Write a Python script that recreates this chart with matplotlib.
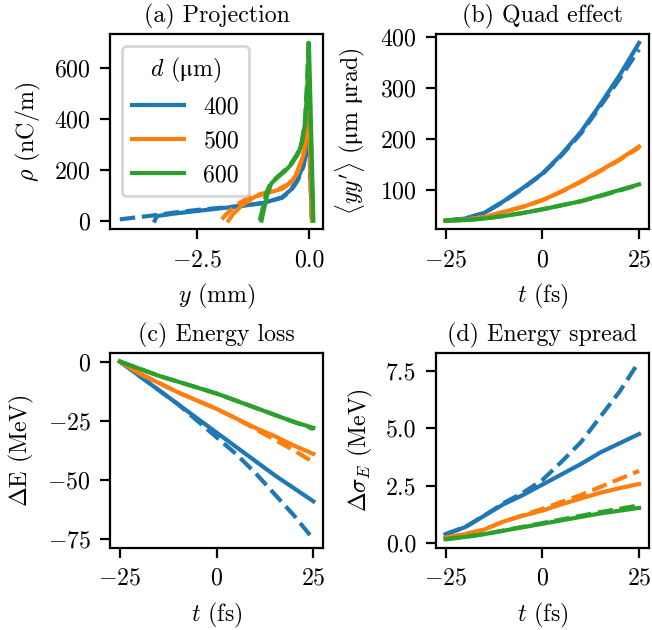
import matplotlib
matplotlib.use('Agg')
import matplotlib.pyplot as plt

plt.rcParams['font.family'] = ['cmr10', 'DejaVu Serif']
plt.rcParams['mathtext.fontset'] = 'cm'
plt.rcParams['axes.formatter.use_mathtext'] = True
plt.rcParams['font.size'] = 8.6
plt.rcParams['axes.titlesize'] = 8.6
plt.rcParams['axes.titlepad'] = 4.0

colors = ['tab:blue', 'tab:orange', 'tab:green']
d_labels = ['400', '500', '600']

# (a) projection: y (mm) and rho (nC/m), solid and dashed for each d
proj_y_solid = [
    [-3.45, -3.4, -3.0, -2.5, -2.0, -1.5, -1.0, -0.6, -0.4, -0.25, -0.12, -0.05, 0.0, 0.07],
    [-1.8, -1.7, -1.5, -1.2, -0.9, -0.6, -0.4, -0.25, -0.12, -0.05, 0.0, 0.07],
    [-1.06, -1.0, -0.92, -0.84, -0.7, -0.55, -0.4, -0.25, -0.15, -0.08, -0.03, 0.0, 0.1],
]
proj_rho_solid = [
    [0, 18, 28, 38, 48, 58, 70, 92, 122, 162, 222, 290, 330, 0],
    [0, 25, 60, 95, 110, 125, 150, 190, 260, 350, 480, 0],
    [0, 50, 110, 147, 170, 193, 220, 260, 310, 390, 550, 700, 0],
]
proj_y_dash = [
    [-4.23, -3.5, -3.0, -2.5, -2.0, -1.5, -1.0, -0.6, -0.4, -0.25, -0.12, -0.05, 0.0, 0.07],
    [-1.95, -1.85, -1.6, -1.3, -1.0, -0.7, -0.45, -0.28, -0.14, -0.06, -0.01, 0.06],
    [-1.1, -1.03, -0.95, -0.86, -0.72, -0.57, -0.42, -0.27, -0.16, -0.09, -0.04, -0.01, 0.09],
]
proj_rho_dash = [
    [5, 20, 32, 42, 50, 58, 70, 90, 118, 158, 215, 280, 340, 0],
    [5, 25, 65, 95, 108, 122, 145, 185, 250, 340, 470, 0],
    [0, 50, 110, 147, 170, 193, 220, 260, 310, 390, 550, 700, 0],
]

t_fs = [-25, -20, -15, -10, -5, 0, 5, 10, 15, 20, 25]

# (b) <yy'> (um urad)
quad_solid = [
    [40, 44, 55, 78, 104, 132, 170, 214, 268, 325, 388],
    [40, 42, 47, 57, 67, 80, 97, 117, 138, 160, 185],
    [40, 41, 44, 49, 55, 62, 70, 78, 89, 100, 111],
]
quad_dash = [
    [40, 44, 55, 77, 103, 131, 168, 211, 264, 318, 375],
    [40, 42, 47, 57, 67, 80, 97, 116, 137, 159, 183],
    [40, 41, 44, 49, 55, 62, 70, 78, 88, 99, 110],
]

# (c) energy loss (MeV)
eloss_solid = [
    [0, -6, -12, -18, -24, -30, -36, -42, -48, -53.5, -59],
    [0, -5, -9, -13, -16.5, -20, -24, -28, -31.5, -35.5, -39],
    [0, -3, -6, -8.5, -11, -13.5, -16.5, -19.5, -22.5, -25.5, -28],
]
eloss_dash = [
    [0, -6, -12, -18, -25, -32, -39, -47, -56, -65, -75],
    [0, -5, -9, -13, -16.5, -20, -24, -28.5, -33, -37.5, -42.5],
    [0, -3, -6, -8.5, -11, -13.5, -16.5, -19.5, -22.5, -25.5, -28.5],
]

# (d) energy spread (MeV)
espread_solid = [
    [0.4, 0.7, 1.2, 1.7, 2.1, 2.55, 3.0, 3.45, 3.95, 4.35, 4.75],
    [0.25, 0.4, 0.6, 0.95, 1.2, 1.42, 1.7, 1.95, 2.2, 2.4, 2.58],
    [0.18, 0.28, 0.4, 0.55, 0.7, 0.85, 1.0, 1.15, 1.3, 1.42, 1.54],
]
espread_dash = [
    [0.4, 0.7, 1.2, 1.75, 2.2, 2.75, 3.55, 4.4, 5.5, 6.6, 7.9],
    [0.25, 0.4, 0.6, 0.95, 1.22, 1.5, 1.8, 2.1, 2.45, 2.8, 3.15],
    [0.18, 0.28, 0.4, 0.56, 0.72, 0.88, 1.04, 1.2, 1.36, 1.5, 1.65],
]

fig, axs = plt.subplots(2, 2, figsize=(3.26, 3.15), dpi=200)
plt.subplots_adjust(left=0.169, right=0.995, top=0.946, bottom=0.130, wspace=0.53, hspace=0.63)
lw = 1.5

ax = axs[0, 0]
for i in range(3):
    ax.plot(proj_y_solid[i], proj_rho_solid[i], color=colors[i], lw=lw, label=d_labels[i])
    ax.plot(proj_y_dash[i], proj_rho_dash[i], color=colors[i], lw=lw, ls='--')
ax.set_xticks([-2.5, 0.0])
ax.set_yticks([0, 200, 400, 600])
ax.set_xlabel(r'$y$ (mm)')
ax.set_ylabel(r'$\rho$ (nC/m)')
ax.set_title('(a) Projection')
ax.legend(title=r'$d$ ($\mathrm{μ}$m)', loc='upper left', handlelength=2.2)

panels = [
    (axs[0, 1], quad_solid, quad_dash, "(b) Quad effect", r"$\langle yy'\rangle$ ($\mathrm{μ}$m $\mathrm{μ}$rad)", [100, 200, 300, 400]),
    (axs[1, 0], eloss_solid, eloss_dash, "(c) Energy loss", r"$\Delta$E (MeV)", [0, -25, -50, -75]),
    (axs[1, 1], espread_solid, espread_dash, "(d) Energy spread", r"$\Delta\sigma_E$ (MeV)", [0.0, 2.5, 5.0, 7.5]),
]
for ax, solid, dash, title, ylabel, yt in panels:
    for i in range(3):
        ax.plot(t_fs, solid[i], color=colors[i], lw=lw)
        ax.plot(t_fs, dash[i], color=colors[i], lw=lw, ls='--')
    ax.set_xticks([-25, 0, 25])
    ax.set_yticks(yt)
    ax.set_xlabel(r'$t$ (fs)')
    ax.set_ylabel(ylabel)
    ax.set_title(title)

axs[1, 1].yaxis.set_major_formatter(matplotlib.ticker.FormatStrFormatter('%.1f'))
axs[0, 0].xaxis.set_major_formatter(matplotlib.ticker.FuncFormatter(lambda v, p: ('$-$' if v < 0 else '') + '%.1f' % abs(v)))

fig.savefig('out.png', dpi=200)
